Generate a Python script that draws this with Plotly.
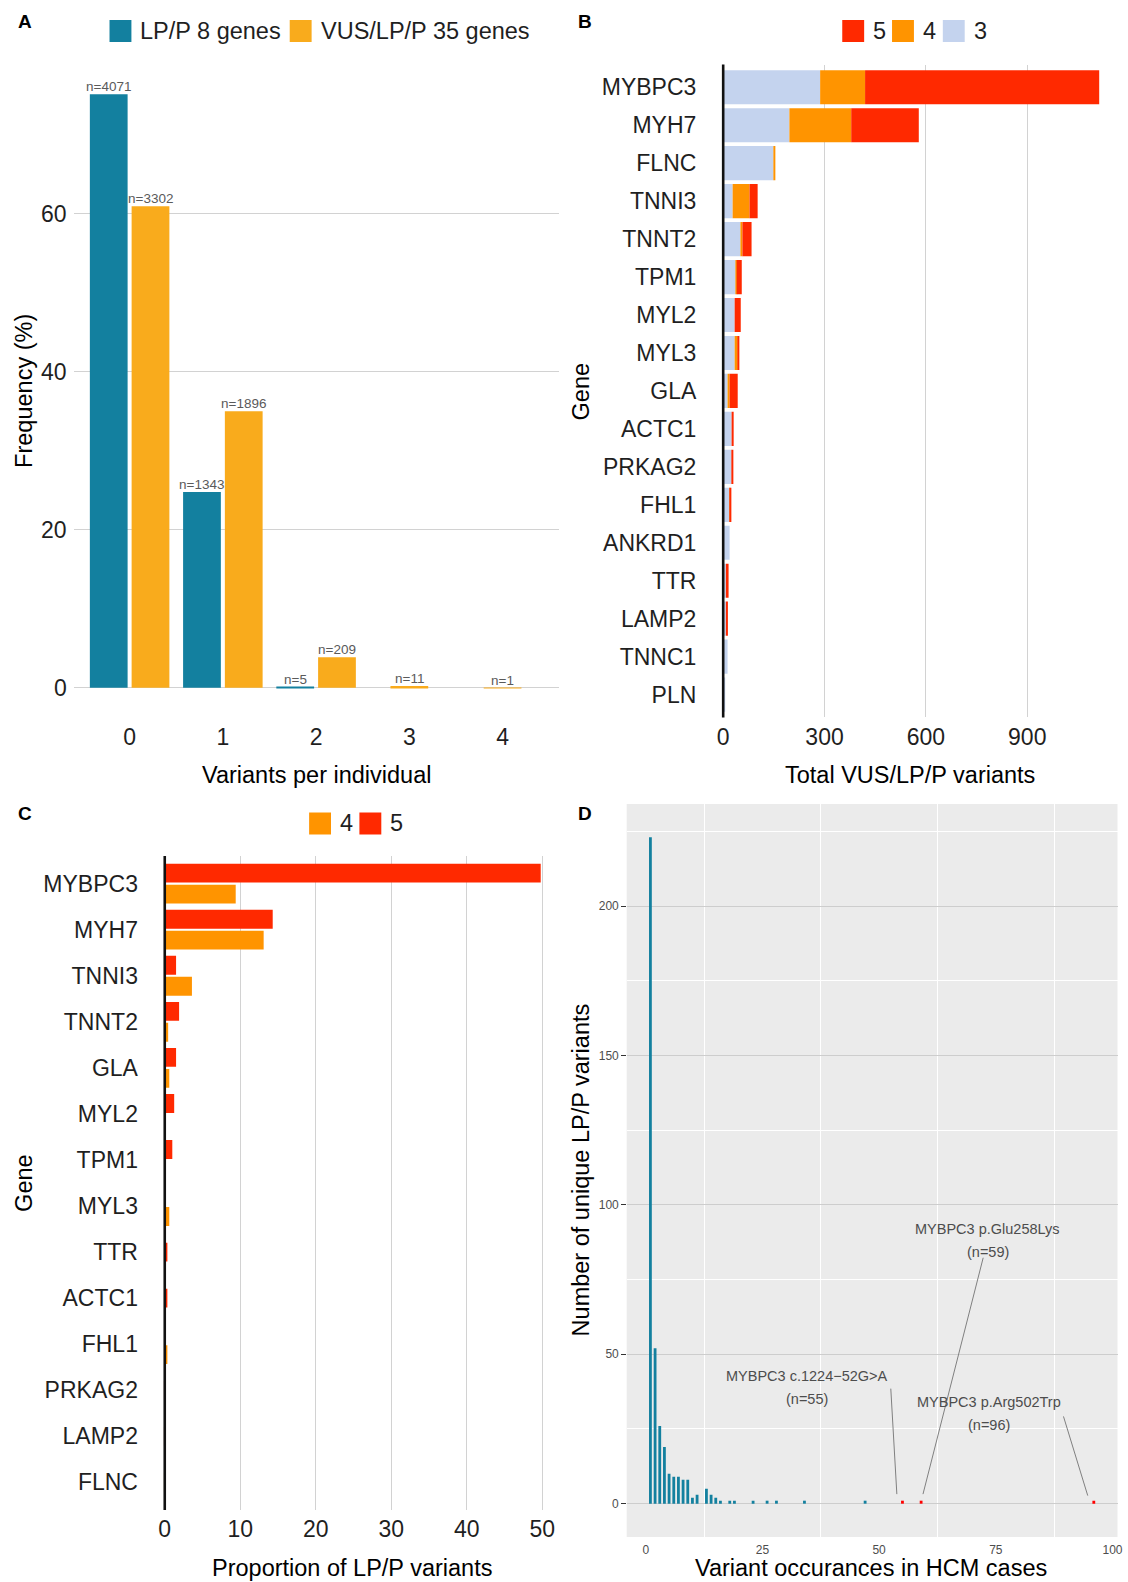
import plotly.graph_objects as go

W, H = 1128, 1582
FONT = "Liberation Sans, Arial, Helvetica, sans-serif"
INK = "#1f1f1f"
TEAL = "#13809F"
GOLD = "#F9AB1C"
RED = "#FF2900"
ORANGE = "#FF9400"
LIGHTBLUE = "#C4D3EE"
GRID = "#D2D2D2"

# ---------------- Panel A: variants per individual ----------------
variants = [0, 1, 2, 3, 4]
lpp_8_genes = [4071, 1343, 5]
vus_lpp_35_genes = [3302, 1896, 209, 11, 1]

# ---------------- Panel B: total VUS/LP/P variants per gene ----------------
genes_b = ["MYBPC3", "MYH7", "FLNC", "TNNI3", "TNNT2", "TPM1", "MYL2", "MYL3", "GLA",
           "ACTC1", "PRKAG2", "FHL1", "ANKRD1", "TTR", "LAMP2", "TNNC1", "PLN"]
class3_b = [287, 196, 149, 28, 51, 37, 34, 34, 13, 25, 25, 19, 19, 8, 8, 13, 6]
class4_b = [133, 183, 3, 50, 6, 3, 0, 9, 6, 0, 0, 2, 0, 0, 0, 0, 0]
class5_b = [693, 200, 0, 24, 27, 15, 18, 3, 24, 6, 3, 3, 0, 8, 6, 0, 0]

# ---------------- Panel C: proportion of LP/P variants ----------------
genes_c = ["MYBPC3", "MYH7", "TNNI3", "TNNT2", "GLA", "MYL2", "TPM1", "MYL3", "TTR",
           "ACTC1", "FHL1", "PRKAG2", "LAMP2", "FLNC"]
class5_c = [49.8, 14.3, 1.5, 1.9, 1.5, 1.25, 1.0, 0, 0.35, 0.35, 0, 0.15, 0.15, None]
class4_c = [9.4, 13.1, 3.6, 0.45, 0.6, 0, 0, 0.6, None, None, 0.35, None, None, 0.15]

# ---------------- Panel D: variant occurrences in HCM cases ----------------
occurrences = [1, 2, 3, 4, 5, 6, 7, 8, 9, 10, 11, 13, 14, 15, 16, 18, 19, 23, 26, 28, 34, 47]
unique_variants = [223, 52, 26, 19, 10, 9, 9, 8, 8, 2, 3, 5, 3, 2, 1, 1, 1, 1, 1, 1, 1, 1]
top_occurrences = [55, 59, 96]
top_unique = [1, 1, 1]
top_names = ["MYBPC3 c.1224\u221252G>A", "MYBPC3 p.Glu258Lys", "MYBPC3 p.Arg502Trp"]

# label placement for the highlighted variants (data units of panel D)
label_pos = [(34.6, 42.8, 35.1), (73.3, 92.0, 84.3), (73.5, 33.9, 26.4)]
leader_from = [(52.5, 38.5), (72.3, 82.3), (89.5, 29.2)]
leader_to = [(53.8, 3.2), (59.4, 3.2), (94.7, 2.7)]


def fx(p):
    return p / W


def fy(p):
    return 1 - p / H


fig = go.Figure()

# ---- A: dodged bars, a lone bar is centred on its tick
BW_A, GAP_A = 0.405, 0.043
freq_lpp = [c / sum(lpp_8_genes) * 100 for c in lpp_8_genes]
freq_vus = [c / sum(vus_lpp_35_genes) * 100 for c in vus_lpp_35_genes]
teal_x = variants[:len(lpp_8_genes)]
teal_off = [-(BW_A + GAP_A / 2)] * len(teal_x)
gold_off = [GAP_A / 2 if v in teal_x else -BW_A / 2 for v in variants]

fig.add_bar(x=teal_x, y=freq_lpp, width=BW_A, offset=teal_off, marker_color=TEAL,
            marker_line_width=0, xaxis="x", yaxis="y", name="LP/P 8 genes", showlegend=False)
fig.add_bar(x=variants, y=freq_vus, width=BW_A, offset=gold_off, marker_color=GOLD,
            marker_line_width=0, xaxis="x", yaxis="y", name="VUS/LP/P 35 genes", showlegend=False)

annotations = []
for xs, ys, offs, counts in [(teal_x, freq_lpp, teal_off, lpp_8_genes),
                             (variants, freq_vus, gold_off, vus_lpp_35_genes)]:
    for xv, yv, off, n in zip(xs, ys, offs, counts):
        annotations.append(dict(x=xv + off + BW_A / 2, y=yv, xref="x", yref="y", text=f"n={n}",
                                showarrow=False, xanchor="center", yanchor="bottom", yshift=-2,
                                font=dict(size=13.5, color="#5a5a5a")))

# ---- B: stacked horizontal bars
base5 = [a + b for a, b in zip(class3_b, class4_b)]
for vals, base, color, name in [(class3_b, [0] * len(class3_b), LIGHTBLUE, "3"),
                                (class4_b, class3_b, ORANGE, "4"),
                                (class5_b, base5, RED, "5")]:
    fig.add_bar(y=genes_b, x=vals, base=base, orientation="h", width=0.9, marker_color=color,
                marker_line_width=0, xaxis="x2", yaxis="y2", name=name, showlegend=False)

# ---- C: dodged horizontal bars (class 5 above class 4)
BW_C, GAP_C = 0.41, 0.045
red_off, org_off = [], []
for r, o in zip(class5_c, class4_c):
    red_off.append(-(BW_C + GAP_C / 2) if o is not None else -BW_C / 2)
    org_off.append(GAP_C / 2 if r is not None else -BW_C / 2)
fig.add_bar(y=genes_c, x=class5_c, orientation="h", width=BW_C, offset=red_off, marker_color=RED,
            marker_line_width=0, xaxis="x3", yaxis="y3", name="5", showlegend=False)
fig.add_bar(y=genes_c, x=class4_c, orientation="h", width=BW_C, offset=org_off, marker_color=ORANGE,
            marker_line_width=0, xaxis="x3", yaxis="y3", name="4", showlegend=False)

# ---- D: histogram-like bars of occurrences
fig.add_bar(x=occurrences, y=unique_variants, width=0.6, marker_color=TEAL, marker_line_width=0,
            xaxis="x4", yaxis="y4", showlegend=False, name="LP/P variants")
fig.add_bar(x=top_occurrences, y=top_unique, width=0.6, marker_color="#FF0000", marker_line_width=0,
            xaxis="x4", yaxis="y4", showlegend=False, name="recurrent variants")

for name, occ, (lx, ly1, ly2) in zip(top_names, top_occurrences, label_pos):
    annotations.append(dict(x=lx, y=ly1, xref="x4", yref="y4", text=name, showarrow=False,
                            xanchor="center", yanchor="middle",
                            font=dict(size=14.5, color="#4d4d4d")))
    annotations.append(dict(x=lx, y=ly2, xref="x4", yref="y4", text=f"(n={occ})", showarrow=False,
                            xanchor="center", yanchor="middle",
                            font=dict(size=14.5, color="#4d4d4d")))

shapes = []
# grey panel background for D
shapes.append(dict(type="rect", xref="x4 domain", yref="y4 domain", x0=0, x1=1, y0=0, y1=1,
                   fillcolor="#EBEBEB", line_width=0, layer="below"))
for (x0, y0), (x1, y1) in zip(leader_from, leader_to):
    shapes.append(dict(type="line", xref="x4", yref="y4", x0=x0, y0=y0, x1=x1, y1=y1,
                       line=dict(color="#808080", width=1)))
# dark baseline at zero for B and C
for xr, yr in [("x2", "y2 domain"), ("x3", "y3 domain")]:
    shapes.append(dict(type="line", xref=xr, yref=yr, x0=0, x1=0, y0=0, y1=1,
                       line=dict(color="#111111", width=2.6), layer="above"))


# ---- hand-built legends
def legend_item(x_sq, y_mid, color, label, size=22):
    shapes.append(dict(type="rect", xref="paper", yref="paper",
                       x0=fx(x_sq), x1=fx(x_sq + size), y0=fy(y_mid - size / 2), y1=fy(y_mid + size / 2),
                       fillcolor=color, line_width=0))
    annotations.append(dict(x=fx(x_sq + size + 7), y=fy(y_mid), xref="paper", yref="paper",
                            text=label, showarrow=False, xanchor="left", yanchor="middle",
                            font=dict(size=23.5, color=INK)))


legend_item(110, 31, TEAL, "LP/P 8 genes")
legend_item(291, 31, GOLD, "VUS/LP/P 35 genes")
legend_item(846, 31, RED, "5")
legend_item(896, 31, ORANGE, "4")
legend_item(947, 31, LIGHTBLUE, "3")
legend_item(310.5, 823.5, ORANGE, "4")
legend_item(361, 823.5, RED, "5")

# ---- panel letters
for letter, px_, py_ in [("A", 25, 21.5), ("B", 587.5, 21.5), ("C", 25, 814), ("D", 587.5, 814)]:
    annotations.append(dict(x=fx(px_), y=fy(py_), xref="paper", yref="paper", text=f"<b>{letter}</b>",
                            showarrow=False, xanchor="center", yanchor="middle",
                            font=dict(size=19, color="#000000")))

# ---- axis titles
titles = [
    ("Variants per individual", 317.5, 775, 0),
    ("Frequency (%)", 24, 391, -90),
    ("Total VUS/LP/P variants", 914, 775, 0),
    ("Gene", 584, 391, -90),
    ("Proportion of LP/P variants", 354, 1568, 0),
    ("Gene", 24, 1183, -90),
    ("Variant occurances in HCM cases", 875, 1568, 0),
    ("Number of unique LP/P variants", 584, 1170, -90),
]
for text, px_, py_, ang in titles:
    annotations.append(dict(x=fx(px_), y=fy(py_), xref="paper", yref="paper", text=text,
                            showarrow=False, textangle=ang, xanchor="center", yanchor="middle",
                            font=dict(size=23.5, color="#000000")))

tick_font = dict(size=23, color=INK, family=FONT)
small_tick = dict(size=12, color="#4d4d4d", family=FONT)

fig.update_layout(
    width=W, height=H,
    margin=dict(l=0, r=0, t=0, b=0),
    paper_bgcolor="white", plot_bgcolor="rgba(0,0,0,0)",
    font=dict(family=FONT, color=INK),
    barmode="overlay",
    showlegend=False,
    annotations=annotations,
    shapes=shapes,
    # A
    xaxis=dict(domain=[fx(74), fx(561)], range=[-0.6, 4.6], tickvals=variants, showgrid=False,
               zeroline=False, ticks="", tickfont=tick_font, ticklabelstandoff=4, anchor="y",
               fixedrange=True),
    yaxis=dict(domain=[fy(717.4), fy(64.5)], range=[-3.76, 78.88], tickvals=[0, 20, 40, 60],
               showgrid=True, gridcolor=GRID, gridwidth=1.1, zeroline=False, ticks="",
               tickfont=tick_font, ticklabelstandoff=6, anchor="x"),
    # B
    xaxis2=dict(domain=[fx(707.5), fx(1123)], range=[-55.7, 1168.7], tickvals=[0, 300, 600, 900],
                showgrid=True, gridcolor=GRID, gridwidth=1.1, zeroline=False, ticks="",
                tickfont=tick_font, ticklabelstandoff=4, anchor="y2"),
    yaxis2=dict(domain=[fy(717.4), fy(64.5)], type="category", categoryorder="array",
                categoryarray=genes_b, range=[len(genes_b) - 0.4, -0.6], showgrid=False,
                zeroline=False, ticks="", tickfont=tick_font, ticklabelstandoff=7, anchor="x2"),
    # C
    xaxis3=dict(domain=[fx(146.6), fx(562)], range=[-2.49, 52.29], tickvals=[0, 10, 20, 30, 40, 50],
                showgrid=True, gridcolor=GRID, gridwidth=1.1, zeroline=False, ticks="",
                tickfont=tick_font, ticklabelstandoff=3, anchor="y3"),
    yaxis3=dict(domain=[fy(1510), fy(856)], type="category", categoryorder="array",
                categoryarray=genes_c, range=[len(genes_c) - 0.4, -0.6], showgrid=False,
                zeroline=False, ticks="", tickfont=tick_font, ticklabelstandoff=7, anchor="x3"),
    # D
    xaxis4=dict(domain=[fx(629.5), fx(1122.5)], range=[-4.08, 101.08], tickvals=[0, 25, 50, 75, 100],
                showgrid=False, zeroline=False, ticks="", tickfont=small_tick, ticklabelstandoff=4,
                minor=dict(tick0=12.5, dtick=25, showgrid=True, gridcolor="white", gridwidth=1, ticks=""),
                anchor="y4"),
    yaxis4=dict(domain=[fy(1537), fy(804)], range=[-11.15, 234.15], tickvals=[0, 50, 100, 150, 200],
                showgrid=True, gridcolor="#CDCDCD", gridwidth=1.4, zeroline=False,
                ticks="outside", ticklen=4.5, tickcolor="#333333", tickwidth=1,
                tickfont=small_tick, ticklabelstandoff=0,
                minor=dict(tick0=25, dtick=50, showgrid=True, gridcolor="white", gridwidth=1, ticks=""),
                anchor="x4"),
)

fig.write_html("out.html")
